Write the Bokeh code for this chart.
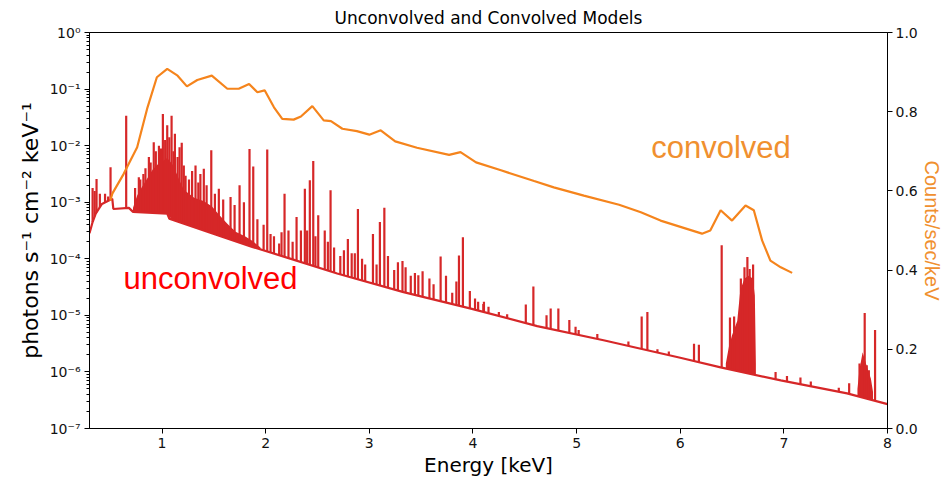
import numpy as np
from bokeh.plotting import figure
from bokeh.models import (Range1d, LinearAxis, LinearScale, FixedTicker, CustomJSTickFormatter,
                          PrintfTickFormatter)
from bokeh.core.properties import value
from bokeh.embed import file_html
from bokeh.resources import INLINE

# ---------------- data ----------------
# unconvolved continuum (energy keV, log10 photons s^-1 cm^-2 keV^-1)
cont_E = [0.30, 0.33, 0.36, 0.42, 0.52, 0.53, 0.68, 0.72, 1.05, 1.07, 1.55, 1.87,
          2.19, 2.69, 3.33, 3.98, 4.62, 5.26, 6.00, 6.39, 6.97, 7.61, 8.00]
cont_log = [-3.55, -3.35, -3.20, -3.03, -2.94, -3.12, -3.10, -3.17, -3.20, -3.29, -3.59, -3.79,
            -3.97, -4.26, -4.59, -4.88, -5.19, -5.44, -5.75, -5.92, -6.15, -6.38, -6.57]

# emission lines (energy keV, log10 peak)
line_E = [0.33, 0.35, 0.368, 0.40, 0.45, 0.48, 0.503, 0.654,
          0.776, 0.82, 0.873, 0.92, 0.97, 1.008, 1.05, 1.092, 1.124, 1.169, 1.19, 1.227,
          1.323, 1.37, 1.403, 1.475, 1.548, 1.661, 1.748, 1.844, 1.88, 2.015, 2.13,
          2.047, 2.153, 2.182, 2.298, 2.34, 2.378, 2.426, 2.459, 2.507, 2.57, 2.626,
          2.755, 2.793, 2.83, 2.89, 2.96, 3.035, 3.102, 3.145, 3.276, 3.32, 3.35, 3.40,
          3.473, 3.514, 3.62, 3.688, 3.80, 3.865, 3.903, 3.97, 4.02, 4.10,
          4.05, 4.106, 4.15, 4.25, 4.33, 4.51, 4.583, 4.71, 4.75, 4.824, 4.93, 4.99,
          5.02, 5.20, 5.50, 5.628, 5.683, 5.78, 5.89,
          6.133, 6.18, 6.40, 6.48, 6.52, 6.585, 6.62, 6.648, 6.67, 6.703,
          6.92, 7.03, 7.16, 7.26, 7.53, 7.63, 7.73, 7.78, 7.80, 7.82, 7.88,
          0.74, 0.79, 0.84, 0.89, 0.94, 0.99, 1.03, 1.07, 1.11, 1.15, 1.21, 1.26, 1.29,
          1.35, 1.43, 1.51, 1.59, 1.70, 1.79, 1.92, 1.98, 2.08, 2.22, 2.26, 2.40, 2.48,
          2.60, 2.66, 2.72, 2.86, 2.93, 3.07, 3.18, 3.24, 3.44, 3.58, 3.74, 3.84]
line_log = [-2.75, -2.80, -2.59, -2.85, -2.85, -2.90, -2.38, -1.47,
            -2.56, -2.50, -2.20, -1.94, -2.00, -1.44, -1.64, -1.47, -1.79, -2.03, -1.95, -2.53,
            -2.35, -2.50, -2.41, -2.08, -2.76, -2.91, -2.70, -2.06, -2.37, -2.07, -3.73,
            -3.56, -3.53, -2.85, -3.26, -3.50, -2.76, -2.61, -2.27, -3.23, -3.50, -2.79,
            -3.85, -3.65, -3.90, -3.12, -4.10, -3.56, -3.35, -3.10, -4.06, -4.04, -4.15, -4.30,
            -4.29, -4.22, -4.45, -3.96, -4.60, -3.94, -3.62, -4.57, -4.70, -4.80,
            -4.76, -4.76, -4.85, -4.94, -4.98, -4.81, -4.49, -5.00, -4.88, -4.88, -5.08, -5.20,
            -5.26, -5.33, -5.46, -5.02, -4.94, -5.60, -5.64,
            -5.50, -5.52, -3.76, -5.04, -5.02, -4.35, -4.15, -3.97, -4.18, -4.10,
            -6.00, -6.07, -6.10, -6.17, -6.28, -6.20, -5.85, -4.96, -5.88, -5.97, -5.26,
            -2.75, -2.60, -2.40, -2.30, -2.10, -2.05, -1.90, -1.85, -2.10, -2.20, -2.35, -2.60, -2.45,
            -2.65, -2.70, -2.85, -2.95, -3.05, -3.00, -3.30, -3.40, -3.60, -3.50, -3.70, -3.50, -3.60,
            -3.70, -3.80, -3.95, -3.90, -4.00, -4.10, -3.95, -4.20, -4.25, -4.35, -4.30, -4.40]

# dense line forests: upper envelopes (energy keV, log10)
forest_E = [0.72, 0.76, 0.80, 0.86, 0.91, 0.96, 1.00, 1.05, 1.10, 1.13, 1.17, 1.21,
            1.31, 1.40, 1.48, 1.55, 1.63, 1.71, 1.80, 1.87, 1.95]
forest_log = [-3.10, -2.88, -2.75, -2.57, -2.42, -2.33, -2.28, -2.22, -2.33, -2.45, -2.62, -2.78,
              -2.92, -2.98, -3.07, -3.22, -3.38, -3.52, -3.60, -3.68, -3.80]
fe_E = [6.44, 6.47, 6.50, 6.55, 6.58, 6.62, 6.66, 6.70, 6.72, 6.73]
fe_log = [-5.85, -5.55, -5.35, -5.10, -4.55, -4.35, -4.30, -4.35, -4.65, -5.85]
ni_E = [7.71, 7.73, 7.76, 7.80, 7.84, 7.86]
ni_log = [-6.30, -5.95, -5.65, -5.90, -6.12, -6.35]

# convolved model (energy keV, counts/sec/keV)
conv_E = [0.50, 0.52, 0.63, 0.76, 0.86, 0.95, 1.05, 1.15, 1.24, 1.34, 1.48, 1.63, 1.74,
          1.84, 1.92, 1.99, 2.08, 2.16, 2.27, 2.34, 2.45, 2.56, 2.63, 2.74, 2.88, 3.00,
          3.11, 3.25, 3.46, 3.77, 3.88, 4.03, 4.27, 4.59, 4.78, 5.07, 5.41, 5.62, 5.81,
          6.21, 6.29, 6.39, 6.50, 6.63, 6.71, 6.79, 6.87, 6.97, 7.08]
conv_v = [0.575, 0.593, 0.643, 0.710, 0.811, 0.887, 0.908, 0.891, 0.864, 0.880, 0.891, 0.858,
          0.858, 0.870, 0.849, 0.854, 0.811, 0.782, 0.780, 0.788, 0.814, 0.778, 0.776, 0.757,
          0.751, 0.742, 0.753, 0.725, 0.709, 0.691, 0.698, 0.672, 0.652, 0.625, 0.609, 0.588,
          0.565, 0.546, 0.525, 0.492, 0.500, 0.551, 0.525, 0.563, 0.551, 0.475, 0.424, 0.407,
          0.393]

x_ticks = [1, 2, 3, 4, 5, 6, 7, 8]
right_ticks = [0.0, 0.2, 0.4, 0.6, 0.8, 1.0]

# ---------------- styles ----------------
RED = "#d62728"
ORANGE = "#f5841c"
ORANGE_TXT = "#f0902f"
TICK_FONT = "DejaVu Sans"

cE = np.array(cont_E)
cL = np.array(cont_log)


def base_at(E):
    return 10 ** np.interp(E, cE, cL)


p = figure(width=945, height=479, x_range=Range1d(0.3, 8), y_range=Range1d(1e-7, 1),
           y_axis_type="log", output_backend="svg", toolbar_location=None,
           title="Unconvolved and Convolved Models")
p.min_border_left = 89
p.min_border_right = 58
p.min_border_top = 32
p.min_border_bottom = 51
p.title.align = "center"
p.title.text_font = TICK_FONT
p.title.text_font_size = "17px"
p.title.text_font_style = "normal"
p.title.text_color = "#000000"
p.grid.visible = False
p.outline_line_color = "black"
p.outline_line_width = 1
p.background_fill_color = "white"
p.border_fill_color = "white"

# x axis
xa = p.xaxis[0]
xa.ticker = FixedTicker(ticks=x_ticks)
xa.axis_label = "Energy [keV]"

# left log axis
ya = p.yaxis[0]
decades = [10.0 ** k for k in range(-7, 1)]
minors = [m * 10.0 ** k for k in range(-7, 0) for m in range(2, 10)]
ya.ticker = FixedTicker(ticks=decades, minor_ticks=minors)
ya.formatter = CustomJSTickFormatter(code="""
const e = Math.round(Math.log10(tick));
const sup = {'-':'\u207b','0':'\u2070','1':'\u00b9','2':'\u00b2','3':'\u00b3','4':'\u2074','5':'\u2075','6':'\u2076','7':'\u2077','8':'\u2078','9':'\u2079'};
return '10' + String(e).split('').map(c => sup[c]).join('');
""")
ya.axis_label = "photons s\u207b\u00b9 cm\u207b\u00b2 keV\u207b\u00b9"

# right linear axis
p.extra_y_ranges = {"cnt": Range1d(0, 1)}
p.extra_y_scales = {"cnt": LinearScale()}
ra = LinearAxis(y_range_name="cnt", ticker=FixedTicker(ticks=right_ticks),
                formatter=PrintfTickFormatter(format="%.1f"),
                axis_label="Counts/sec/keV")
p.add_layout(ra, "right")

for ax in [xa, ya, ra]:
    ax.axis_line_color = "black"
    ax.major_tick_line_color = "black"
    ax.minor_tick_line_color = "black"
    ax.major_tick_out = 5
    ax.major_tick_in = 0
    ax.minor_tick_out = 3
    ax.minor_tick_in = 0
    ax.major_label_text_font = TICK_FONT
    ax.major_label_text_font_size = "14px"
    ax.major_label_text_color = "#111111"
    ax.major_label_standoff = 4
    ax.axis_label_text_font_style = "normal"
xa.minor_tick_line_color = None
ra.minor_tick_line_color = None
ra.major_label_standoff = 3
xa.axis_label_text_font = TICK_FONT
xa.axis_label_text_font_size = "20px"
xa.axis_label_text_color = "#000000"
xa.axis_label_standoff = 2
ya.axis_label_text_font = TICK_FONT
ya.axis_label_text_font_size = "22px"
ya.axis_label_text_color = "#000000"
ya.axis_label_standoff = 4
ra.axis_label_text_font = "Liberation Sans"
ra.axis_label_text_font_size = "20px"
ra.axis_label_text_color = ORANGE_TXT
ra.axis_label_standoff = 0

# ---------------- unconvolved spectrum ----------------
fE = np.array(forest_E)
p.varea(x=fE, y1=base_at(fE), y2=10 ** np.array(forest_log), fill_color=RED)
feE = np.array(fe_E)
p.varea(x=feE, y1=base_at(feE), y2=10 ** np.array(fe_log), fill_color=RED)
niE = np.array(ni_E)
p.varea(x=niE, y1=base_at(niE), y2=10 ** np.array(ni_log), fill_color=RED)

lE = np.array(line_E)
p.segment(x0=lE, y0=base_at(lE), x1=lE, y1=10 ** np.array(line_log),
          line_color=RED, line_width=2.2)
p.line(cE, 10 ** cL, line_color=RED, line_width=2.2)

# ---------------- convolved model ----------------
p.line(conv_E, conv_v, y_range_name="cnt", line_color=ORANGE, line_width=2.2)

# ---------------- annotations ----------------
p.text(x=[0.628], y=[4.4e-5], text=["unconvolved"], text_color="#ff0000",
       text_font=value("Liberation Sans"), text_font_size="31px",
       text_baseline="alphabetic", text_align="left")
p.text(x=[5.72], y=[0.71], text=["convolved"], text_color=ORANGE_TXT,
       text_font=value("Liberation Sans"), text_font_size="31px",
       text_baseline="alphabetic", text_align="left", y_range_name="cnt")

open("out.html", "w").write(file_html(p, INLINE))
